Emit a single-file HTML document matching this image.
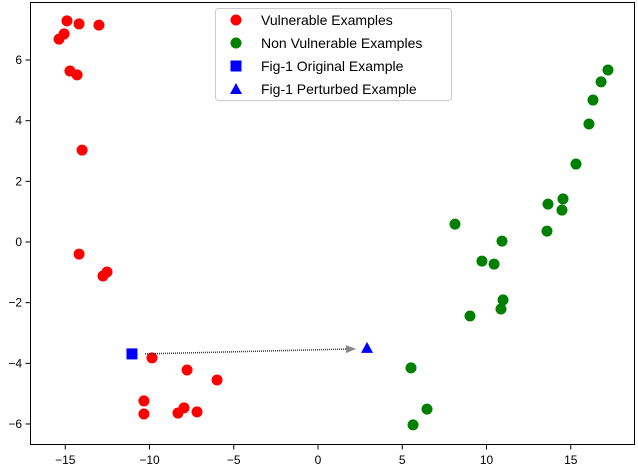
<!DOCTYPE html>
<html><head><meta charset="utf-8"><style>
html,body{margin:0;padding:0;background:#fff;}
svg{display:block;font-family:"Liberation Sans","DejaVu Sans",sans-serif;}
</style></head><body>
<svg id="chart" width="638" height="468" viewBox="0 0 638 468" xmlns="http://www.w3.org/2000/svg">
<defs><marker id="ah" markerWidth="10" markerHeight="8" refX="9" refY="4" orient="auto" markerUnits="userSpaceOnUse"><path d="M0,0 L10,4 L0,8 z" fill="#888"/></marker></defs>
<g id="marks"></g>
<rect x="30.5" y="2.5" width="604" height="442" fill="none" stroke="#000" stroke-width="1"/>
<g id="axes"></g>
<g>
<rect x="215.5" y="8.5" width="236" height="92" rx="3" fill="#fff" fill-opacity="0.8" stroke="#ccc"/>
<circle cx="236" cy="20" r="5.5" fill="red"/>
<text x="261" y="25" font-size="14">Vulnerable Examples</text>
<circle cx="236" cy="43" r="5.5" fill="green"/>
<text x="261" y="48" font-size="14">Non Vulnerable Examples</text>
<rect x="230.5" y="60.5" width="11" height="11" fill="blue"/>
<text x="261" y="71" font-size="14">Fig-1 Original Example</text>
<path d="M236,83 L242,94 L230,94 z" fill="blue"/>
<text x="261" y="94" font-size="14">Fig-1 Perturbed Example</text>
</g>
</svg>
<script>
const vulnX=[-15.37,-15.07,-14.9,-14.18,-13.0,-14.72,-14.3,-14.0,-14.18,-12.76,-12.52,-9.85,-10.33,-10.33,-7.77,-5.99,-7.95,-8.31,-7.18];
const vulnY=[6.69,6.86,7.29,7.19,7.15,5.64,5.51,3.03,-0.40,-1.12,-0.99,-3.82,-5.24,-5.67,-4.22,-4.55,-5.47,-5.64,-5.6];
const nonX=[8.13,9.73,10.45,10.92,10.98,10.86,9.02,13.65,13.59,14.54,14.48,15.31,16.08,16.32,16.8,17.21,5.52,5.64,6.47];
const nonY=[0.59,-0.63,-0.73,0.03,-1.91,-2.21,-2.44,1.25,0.36,1.42,1.05,2.57,3.89,4.68,5.28,5.67,-4.15,-6.03,-5.51];
const origPt=[-11.04,-3.69];
const pertPt=[2.91,-3.49];
const xTicks=[-15,-10,-5,0,5,10,15];
const yTicks=[-6,-4,-2,0,2,4,6];
const sx=v=>318+v*16.85;
const sy=v=>242-v*30.33;
const NS="http://www.w3.org/2000/svg";
const marks=document.getElementById('marks'), axes=document.getElementById('axes');
function mk(tag,attrs,parent){const e=document.createElementNS(NS,tag);for(const k in attrs)e.setAttribute(k,attrs[k]);parent.appendChild(e);return e;}
vulnX.forEach((x,i)=>{const c=mk('circle',{cx:sx(x),cy:sy(vulnY[i]),r:5.5,fill:'red'},marks);

});
nonX.forEach((x,i)=>{const c=mk('circle',{cx:sx(x),cy:sy(nonY[i]),r:5.5,fill:'green'},marks);

});
const ar=mk('line',{x1:sx(origPt[0])+13,y1:sy(origPt[1]),x2:sx(pertPt[0])-12,y2:sy(pertPt[1])+1,stroke:'#333','stroke-width':1.5,'stroke-dasharray':'1 1','marker-end':'url(#ah)'},marks);


const sq=mk('rect',{x:sx(origPt[0])-5.5,y:sy(origPt[1])-5.5,width:11,height:11,fill:'blue'},marks);


const px=sx(pertPt[0]),py=sy(pertPt[1]);
const tr=mk('path',{d:`M${px},${py-6} L${px+6},${py+5} L${px-6},${py+5} z`,fill:'blue'},marks);


xTicks.forEach(t=>{const x=sx(t);mk('line',{x1:x,y1:444.5,x2:x,y2:449.5,stroke:'#000'},axes);
const tx=mk('text',{x:x,y:464,'font-size':12,'text-anchor':'middle'},axes);tx.textContent=t<0?'\u2212'+(-t):String(t);

});
yTicks.forEach(t=>{const y=sy(t);mk('line',{x1:25.5,y1:y,x2:30.5,y2:y,stroke:'#000'},axes);
const tx=mk('text',{x:22,y:y+4,'font-size':12,'text-anchor':'end'},axes);tx.textContent=t<0?'\u2212'+(-t):String(t);

});
</script>
</body></html>
